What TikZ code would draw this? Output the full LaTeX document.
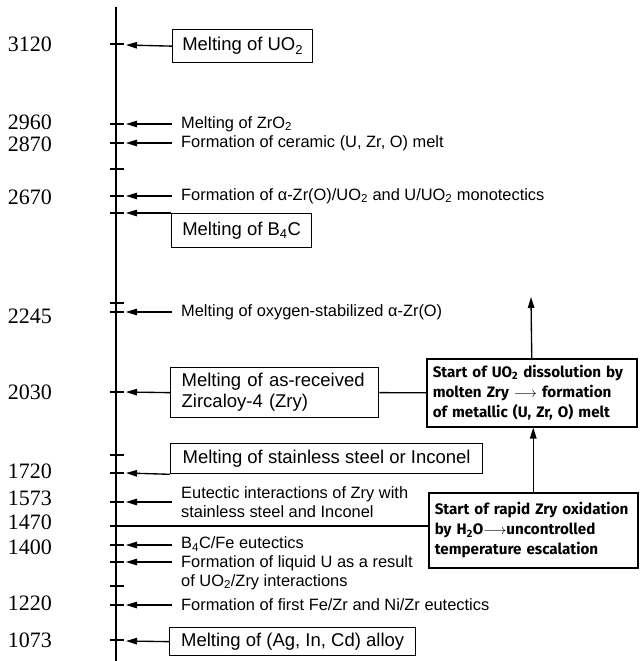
\documentclass[tikz,border=0pt]{standalone}
\usepackage{fontspec}
\setmainfont{Liberation Sans}
\newfontfamily\numfont{Liberation Serif}
\newfontfamily\rfont{Fira Sans}
\usetikzlibrary{arrows.meta}
\begin{document}
\begin{tikzpicture}[x=1pt,y=-1pt,
  axisline/.style={line width=1.9pt},
  tickline/.style={line width=1.3pt},
  arr/.style={line width=1.35pt,-{Triangle[length=11pt,width=6.5pt]}},
  plainline/.style={line width=1.35pt},
  num/.style={font=\numfont\fontsize{22}{24}\selectfont, anchor=center, inner sep=0pt},
  lbl/.style={font=\fontsize{16.4}{19}\selectfont, anchor=west, inner xsep=9pt, inner ysep=0pt, align=left},
  mbox/.style={draw, line width=1.3pt, font=\fontsize{18.5}{21}\selectfont, anchor=north west, inner sep=0pt},
  rbox/.style={draw, line width=1.5pt, font=\rfont\bfseries\fontsize{15.2}{20}\selectfont, anchor=north west, inner xsep=6pt, inner ysep=0pt, align=left}
]
\useasboundingbox (0,0) rectangle (641,661);
% axis
\draw[axisline] (116,7) -- (116,661);
% ticks
\foreach \y in {44,124,143,169,196,213,303,312,392,455,473,502,526,545,562,586,605,640}
  \draw[tickline] (110,\y) -- (124,\y);
% axis coordinates
\coordinate (a3120) at (126,45);
\coordinate (a2960) at (126,124);
\coordinate (a2870) at (126,143);
\coordinate (a2670) at (126,196);
\coordinate (a2600) at (126,213);
\coordinate (a2245) at (126,312);
\coordinate (a2030) at (126,392);
\coordinate (a1720) at (126,473);
\coordinate (a1573) at (126,502);
\coordinate (a1470) at (124,526);
\coordinate (a1400) at (126,545);
\coordinate (a1380) at (126,562);
\coordinate (a1220) at (126,605);
\coordinate (a1073) at (126,641);
\coordinate (topend) at (531,297);
% numbers
\node[num] (n3120) at (30,44) {3120};
\node[num] (n2960) at (30,122) {2960};
\node[num] (n2870) at (30,144) {2870};
\node[num] (n2670) at (30,197) {2670};
\node[num] (n2245) at (30,316) {2245};
\node[num] (n2030) at (30,392) {2030};
\node[num] (n1720) at (30,471) {1720};
\node[num] (n1573) at (30,498) {1573};
\node[num] (n1470) at (30,522) {1470};
\node[num] (n1400) at (30,547) {1400};
\node[num] (n1220) at (30,603) {1220};
\node[num] (n1073) at (30,640) {1073};
% boxes and labels
\node[mbox, minimum width=140, minimum height=33] (bUO) at (172,29) {Melting of UO\textsubscript{2}};
\draw[arr] (bUO.west) -- (a3120);
\node[lbl] (lZrO) at (172,124) {Melting of ZrO\textsubscript{2}};
\draw[arr] (lZrO.west) -- (a2960);
\node[lbl] (lCer) at (172,143) {Formation of ceramic (U, Zr, O) melt};
\draw[arr] (lCer.west) -- (a2870);
\node[lbl] (lMono) at (172,196) {Formation of α-Zr(O)/UO\textsubscript{2} and U/UO\textsubscript{2} monotectics};
\draw[arr] (lMono.west) -- (a2670);
\node[mbox, minimum width=140, minimum height=34] (bB4C) at (171,213) {Melting of B\textsubscript{4}C};
\draw[arr] (bB4C.north west) -- (a2600);
\node[lbl] (lOx) at (172,312) {Melting of oxygen-stabilized α-Zr(O)};
\draw[arr] (lOx.west) -- (a2245);
\node[mbox, text width=186, inner xsep=11pt, align=left, minimum height=50] (bZry) at (170,367) {Melting of as-received\\Zircaloy-4 (Zry)};
\draw[arr] (bZry.west) -- (a2030);
\node[mbox, minimum width=312, minimum height=30] (bSS) at (170,443) {Melting of stainless steel or Inconel};
\draw[arr] (bSS.south west) -- (a1720);
\node[lbl] (lEut) at (172,502) {Eutectic interactions of Zry with\\stainless steel and Inconel};
\draw[arr] (lEut.west) -- (a1573);
\node[lbl] (lBFe) at (172,544) {B\textsubscript{4}C/Fe eutectics};
\draw[arr] (lBFe.west |- a1400) -- (a1400);
\node[lbl, anchor=north west] (lLiq) at (172,555) {Formation of liquid U as a result\\of UO\textsubscript{2}/Zry interactions};
\draw[arr] (lLiq.west |- a1380) -- (a1380);
\node[lbl] (lFeZr) at (172,605) {Formation of first Fe/Zr and Ni/Zr eutectics};
\draw[arr] (lFeZr.west) -- (a1220);
\node[mbox, minimum width=246, minimum height=28] (bAg) at (169,627) {Melting of (Ag, In, Cd) alloy};
\draw[arr] (bAg.west) -- (a1073);
% right boxes
\node[rbox, text width=198, minimum height=68] (rUp) at (426,358) {\mbox{Start of UO\textsubscript{2} dissolution by}\\\mbox{molten Zry $\longrightarrow$ formation}\\\mbox{of metallic (U, Zr, O) melt}};
\node[rbox, text width=197, minimum height=75] (rLo) at (428,492) {\mbox{Start of rapid Zry oxidation}\\\mbox{by H\textsubscript{2}O$\longrightarrow$uncontrolled}\\\mbox{temperature escalation}};
\draw[plainline] (bZry.east) -- (rUp.west);
\draw[plainline] (rLo.west |- a1470) -- (a1470);
\draw[arr] (rUp.north) -- (topend);
\draw[arr] (rLo.north) -- (rLo.north |- rUp.south);
\end{tikzpicture}
\end{document}
